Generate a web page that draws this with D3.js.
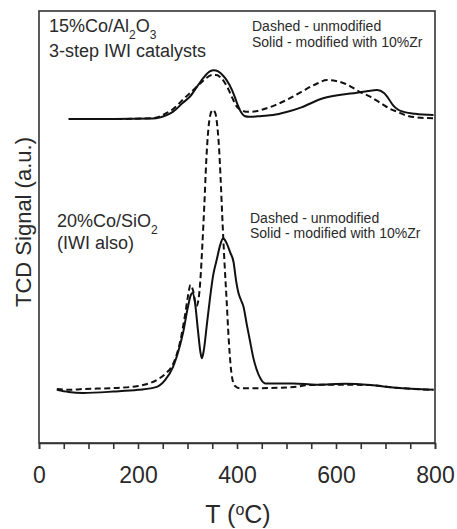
<!DOCTYPE html>
<html>
<head>
<meta charset="utf-8">
<script src="https://cdn.jsdelivr.net/npm/d3@7"></script>
<style>
  html, body { margin: 0; padding: 0; background: #fff; }
  svg { display: block; }
  text { font-family: Arial, "Liberation Sans", Helvetica, sans-serif; fill: #2a2a2a; }
</style>
</head>
<body>
<svg id="chart" width="457" height="529"></svg>
<script>
// Temperature (°C) and TCD signal (a.u., offset traces) for each TPR profile
const alUnmodT = [60, 150, 230, 258, 271, 290, 305, 320, 335, 350, 358, 368, 380, 392, 400, 410, 418, 430, 460, 500, 530, 560, 582, 600, 620, 648, 670, 690, 710, 723, 740, 770, 797];
const alUnmodV = [75.0, 75.0, 75.2, 76.4, 77.3, 79.4, 81.0, 82.6, 84.2, 85.2, 85.2, 84.5, 82.5, 79.5, 77.8, 77.0, 76.7, 76.7, 77.5, 79.4, 81.3, 83.1, 84.0, 83.8, 83.1, 81.3, 80.1, 78.7, 77.3, 76.7, 75.9, 75.3, 75.2];

const alZrT = [60, 150, 230, 258, 271, 290, 305, 320, 332, 345, 353, 362, 372, 379, 390, 400, 408, 415, 425, 450, 473, 500, 530, 574, 610, 642, 665, 683, 697, 708, 715, 725, 735, 760, 797];
const alZrV = [75.0, 75.0, 75.1, 75.9, 76.7, 78.7, 80.2, 82.6, 84.5, 86.0, 86.3, 86.0, 85.0, 84.0, 81.7, 78.7, 76.6, 75.7, 75.5, 75.7, 75.9, 76.6, 77.7, 79.8, 80.6, 81.1, 81.5, 81.7, 81.0, 79.4, 78.2, 77.2, 76.7, 76.2, 75.9];

const siUnmodT = [36, 60, 90, 150, 200, 238, 255, 271, 285, 295, 301, 306, 311, 318, 322, 326, 330, 334, 338, 342, 346, 351, 356, 360, 364, 367, 371, 375, 379, 383, 387, 391, 396, 405, 450, 520, 540, 600, 669, 720, 797];
const siUnmodV = [12.5, 12.3, 12.5, 12.7, 13.2, 14.6, 16.0, 18.3, 23.4, 29.6, 34.0, 36.6, 35.4, 31.7, 33.1, 37.7, 45.8, 55.1, 65.5, 72.5, 75.9, 77.1, 76.4, 73.6, 67.8, 60.9, 50.5, 41.2, 33.1, 24.5, 18.1, 14.6, 13.2, 12.7, 12.7, 13.0, 13.4, 13.5, 13.4, 12.8, 12.3];

const siZrT = [36, 60, 89, 150, 200, 238, 255, 271, 285, 291, 301, 306, 310, 315, 321, 326, 329, 333, 339, 345, 352, 359, 366, 372, 378, 386, 393, 398, 403, 408, 413, 420, 426, 433, 440, 448, 457, 514, 560, 620, 670, 720, 797];
const siZrV = [12.3, 11.8, 11.6, 11.9, 12.3, 13.0, 14.6, 17.7, 22.7, 25.5, 31.6, 34.0, 34.7, 32.6, 26.2, 21.1, 19.6, 21.5, 27.3, 33.1, 38.9, 42.4, 45.8, 47.4, 46.5, 44.2, 41.9, 37.7, 34.7, 33.1, 31.6, 27.3, 23.8, 19.7, 16.9, 14.8, 13.8, 13.8, 13.5, 13.7, 13.4, 12.8, 12.3];

const xTicks = [0, 50, 100, 150, 200, 250, 300, 350, 400, 450, 500, 550, 600, 650, 700, 750, 800];
const xTickLabels = [0, 200, 400, 600, 800];

const svg = d3.select("#chart");
const plotL = 39, plotR = 435, plotT = 11, plotB = 443;

const x = d3.scaleLinear().domain([0, 800]).range([plotL, plotR]);
const y = d3.scaleLinear().domain([0, 100]).range([plotB, plotT]);

// Plot frame
svg.append("rect")
  .attr("x", plotL).attr("y", plotT)
  .attr("width", plotR - plotL).attr("height", plotB - plotT)
  .attr("fill", "none").attr("stroke", "#333").attr("stroke-width", 1.6);

// Bottom axis with outward ticks every 50 °C, labels every 200 °C
const xAxis = d3.axisBottom(x)
  .tickValues(xTicks)
  .tickSize(6)
  .tickFormat(d => xTickLabels.includes(d) ? d : "");
const gx = svg.append("g").attr("transform", `translate(0,${plotB})`).call(xAxis);
gx.select(".domain").attr("stroke", "#333").attr("stroke-width", 1.6);
gx.selectAll(".tick line").attr("stroke", "#333").attr("stroke-width", 1.6);
gx.selectAll(".tick text")
  .attr("y", 40).attr("dy", 0)
  .style("font-size", "23px")
  .style("font-family", "Arial, 'Liberation Sans', sans-serif")
  .attr("fill", "#2a2a2a");

// Axis titles
const xt = svg.append("text")
  .attr("x", 238).attr("y", 523)
  .attr("text-anchor", "middle")
  .style("font-size", "25px");
xt.append("tspan").text("T (");
xt.append("tspan").text("o").attr("baseline-shift", "super").style("font-size", "16px");
xt.append("tspan").text("C)");

svg.append("text")
  .attr("transform", "translate(31,222) rotate(-90)")
  .attr("text-anchor", "middle")
  .style("font-size", "22px")
  .text("TCD Signal (a.u.)");

// Traces
const line = d3.line()
  .x(d => x(d[0])).y(d => y(d[1]))
  .curve(d3.curveMonotoneX);

function trace(ts, vs, dashed) {
  svg.append("path")
    .datum(d3.zip(ts, vs))
    .attr("d", line)
    .attr("fill", "none")
    .attr("stroke", "#111")
    .attr("stroke-width", 2)
    .attr("stroke-linejoin", "round")
    .attr("stroke-dasharray", dashed ? "6,3.5" : null);
}
trace(alUnmodT, alUnmodV, true);
trace(alZrT, alZrV, false);
trace(siUnmodT, siUnmodV, true);
trace(siZrT, siZrV, false);

// Annotations
function chem(xp, yp, parts, size) {
  const t = svg.append("text").attr("x", xp).attr("y", yp).style("font-size", size + "px");
  parts.forEach(p => {
    const s = t.append("tspan").text(p[0]);
    if (p[1]) s.attr("baseline-shift", "sub").style("font-size", Math.round(size * 0.68) + "px");
  });
}
chem(49, 32, [["15%Co/Al"], ["2", true], ["O"], ["3", true]], 18);
svg.append("text").attr("x", 49).attr("y", 57).style("font-size", "18px").text("3-step IWI catalysts");

chem(57, 226.5, [["20%Co/SiO"], ["2", true]], 18);
svg.append("text").attr("x", 57).attr("y", 248.5).style("font-size", "18px").text("(IWI also)");

function legend(xp, y1, y2) {
  svg.append("text").attr("x", xp).attr("y", y1).style("font-size", "14px").text("Dashed - unmodified");
  svg.append("text").attr("x", xp).attr("y", y2).style("font-size", "14px").text("Solid - modified with 10%Zr");
}
legend(252, 31, 47);
legend(250, 223, 238);
</script>
</body>
</html>
